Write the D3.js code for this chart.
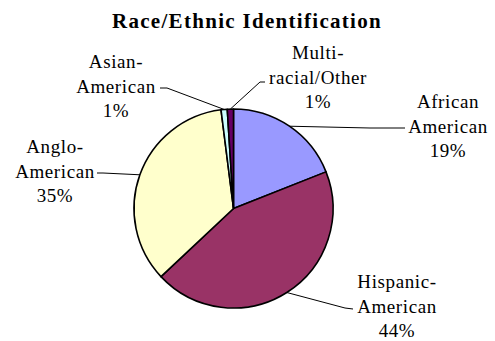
<!DOCTYPE html>
<html>
<head>
<meta charset="utf-8">
<script src="https://cdn.jsdelivr.net/npm/d3@7"></script>
<style>
  html, body { margin: 0; padding: 0; background: #fff; }
  svg { display: block; }
  text { font-family: "Liberation Serif", "DejaVu Serif", serif; }
</style>
</head>
<body>
<svg id="chart" width="495" height="341"></svg>
<script>
// Race/ethnic breakdown, in percent, clockwise from 12 o'clock
const categories = ["African American", "Hispanic-American", "Anglo-American", "Asian-American", "Multi-racial/Other"];
const values = [19, 44, 35, 1, 1];
const labelLines = [
  ["African", "American", "19%"],
  ["Hispanic-", "American", "44%"],
  ["Anglo-", "American", "35%"],
  ["Asian-", "American", "1%"],
  ["Multi-", "racial/Other", "1%"]
];
const colors = ["#9999FF", "#993366", "#FFFFCC", "#CCFFFF", "#660066"];

// Label placement: centre x, first baseline y, and the elbow/end of each leader
const labelLayout = [
  { x: 448, y: 108, elbow: [370, 128], end: [405, 128] },
  { x: 397, y: 288, elbow: [345, 308], end: [353, 309] },
  { x: 55,  y: 153, elbow: [103, 173], end: [97, 173] },
  { x: 116, y: 68,  elbow: [167, 88],  end: [160, 88] },
  { x: 318, y: 59,  elbow: [260, 82],  end: [265, 82] }
];

const svg = d3.select("#chart");
const cx = 233.5, cy = 208.5, r = 99.5;
const lineH = 24.5;

svg.append("text")
  .attr("x", 247).attr("y", 28)
  .attr("text-anchor", "middle")
  .attr("font-weight", "bold")
  .attr("font-size", 21)
  .attr("letter-spacing", 1.3)
  .text("Race/Ethnic Identification");

const pie = d3.pie().sort(null).value(d => d)(values);
const arc = d3.arc().innerRadius(0).outerRadius(r);

const g = svg.append("g").attr("transform", `translate(${cx},${cy})`);
g.selectAll("path.slice")
  .data(pie)
  .join("path")
  .attr("class", "slice")
  .attr("d", arc)
  .attr("fill", (d, i) => colors[i])
  .attr("stroke", "#000")
  .attr("stroke-width", 1.6)
  .attr("stroke-linejoin", "round");

// Leader lines from each slice's mid-arc point to its label
pie.forEach((d, i) => {
  const a = (d.startAngle + d.endAngle) / 2;
  const p0 = [cx + r * Math.sin(a), cy - r * Math.cos(a)];
  const L = labelLayout[i];
  svg.append("polyline")
    .attr("points", [p0, L.elbow, L.end].map(p => p.join(",")).join(" "))
    .attr("fill", "none")
    .attr("stroke", "#000")
    .attr("stroke-width", 1);
});

// Labels
labelLines.forEach((lines, i) => {
  const L = labelLayout[i];
  const t = svg.append("text")
    .attr("text-anchor", "middle")
    .attr("font-size", 19)
    .attr("letter-spacing", 0.6)
    .attr("fill", "#000");
  lines.forEach((s, j) => {
    t.append("tspan").attr("x", L.x).attr("y", L.y + j * lineH).text(s);
  });
});
</script>
</body>
</html>
